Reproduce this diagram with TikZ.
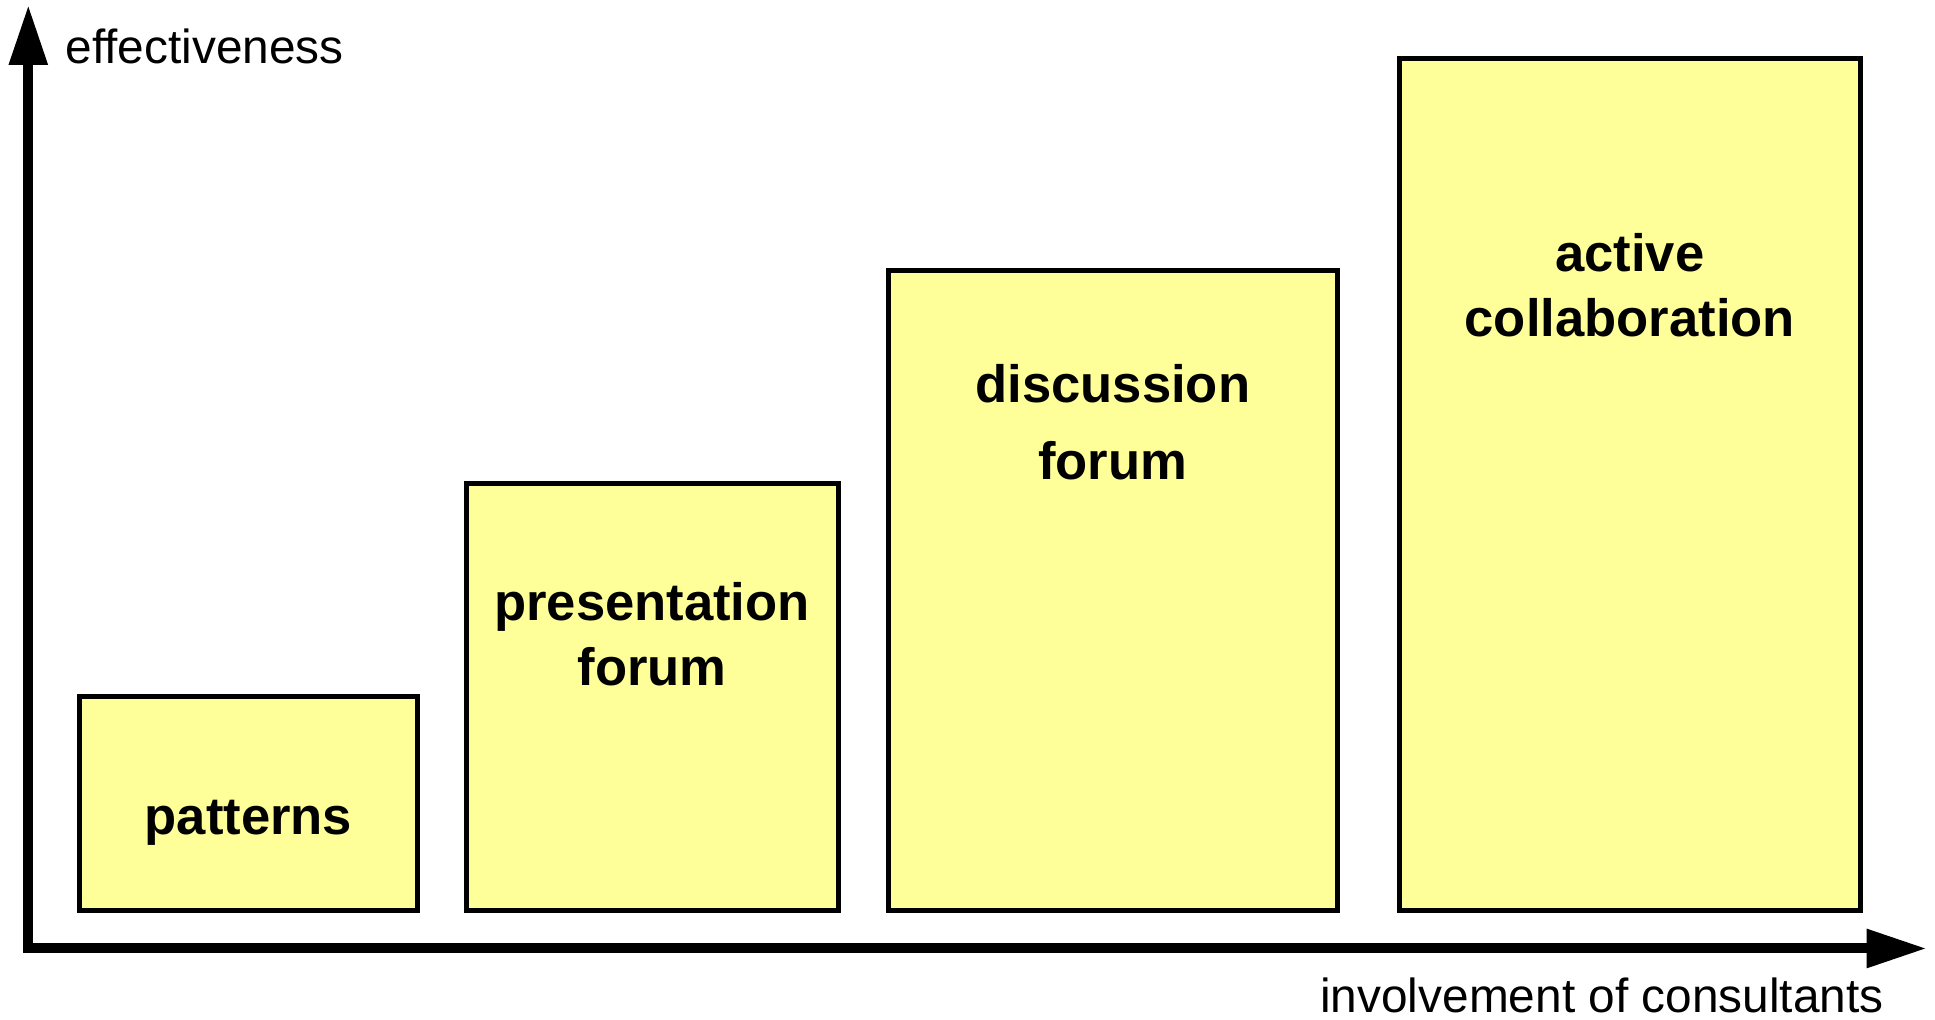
\documentclass[tikz,border=0pt]{standalone}
\usepackage{fontspec}
\setmainfont{Liberation Sans}
\usetikzlibrary{arrows.meta,positioning}
\definecolor{barfill}{RGB}{255,255,153}

\begin{document}
\begin{tikzpicture}[x=1pt,y=1pt,>={Triangle[length=30pt,width=18.3pt]},
    bar/.style={draw,line width=2.5pt,fill=barfill,inner sep=0pt,outer sep=0pt},
    barlabel/.style={font=\bfseries\fontsize{26.3}{32.5}\selectfont,
        align=center,inner sep=0pt,anchor=base},
    axislabel/.style={font=\fontsize{23.9}{28}\selectfont,inner sep=0pt}]
    \useasboundingbox (-14.15,-35.75) rectangle (953.35,474.25);

    % axes
    \coordinate (o)    at (0,0);
    \coordinate (ytip) at (0,471.75);
    \coordinate (xtip) at (949.2,0);
    \draw[<->,line width=5pt] (ytip) -- (o) -- (xtip);
    \node[axislabel,anchor=base west] (ylab) at (18.5,442.6) {effectiveness};
    \node[axislabel,anchor=base east] (xlab) at (927.85,-32) {involvement of consultants};

    % bars
    \node[bar,anchor=south west,minimum width=169pt,minimum height=106.75pt]
        (b_1) at (25.6,19) {};
    \node[bar,minimum width=186pt,minimum height=213.6pt]
        (b_2) [right=24.25pt of b_1.south east,anchor=south west] {};
    \node[bar,minimum width=224.75pt,minimum height=320pt]
        (b_3) [right=25pt of b_2.south east,anchor=south west] {};
    \node[bar,minimum width=230.25pt,minimum height=425.75pt]
        (b_4) [right=31pt of b_3.south east,anchor=south west] {};

    % labels (base = last line)
    \node[barlabel] (l_1) at ([yshift=37.75pt]b_1.south)   {patterns};
    \node[barlabel] (l_2) at ([yshift=-101.35pt]b_2.north) {presentation\\forum};
    \node[barlabel] (l_3) at ([yshift=-104.75pt]b_3.north) {discussion\\[6.15pt]forum};
    \node[barlabel] (l_4) at ([yshift=-138.85pt]b_4.north) {active\\collaboration};
\end{tikzpicture}
\end{document}
